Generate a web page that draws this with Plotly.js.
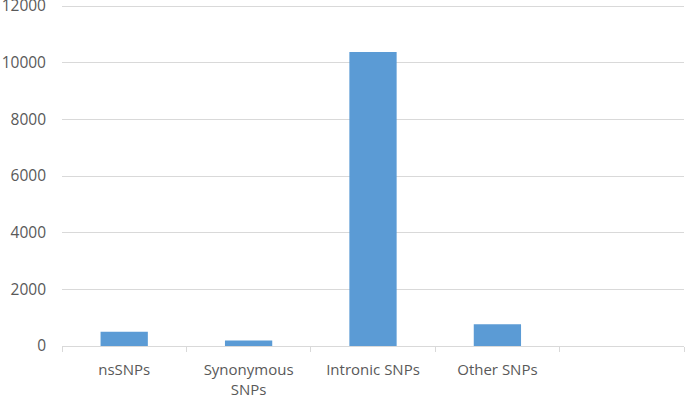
<!DOCTYPE html>
<html>
<head>
<meta charset="utf-8">
<script src="https://cdn.plot.ly/plotly-3.0.1.min.js"></script>
<style>html,body{margin:0;padding:0;background:#fff;}#chart{width:685px;height:398px;}</style>
</head>
<body>
<div id="chart"></div>
<script>
const categories = ['nsSNPs', 'Synonymous<br>SNPs', 'Intronic SNPs', 'Other SNPs', ' '];
const counts = [500, 195, 10380, 770, null];
const yTicks = [0, 2000, 4000, 6000, 8000, 10000, 12000];

const trace = {
  type: 'bar',
  x: categories,
  y: counts,
  marker: {color: '#5b9bd5'},
  hoverinfo: 'x+y'
};

const layout = {
  width: 685,
  height: 398,
  margin: {l: 62, r: 1, t: 0, b: 52},
  paper_bgcolor: '#ffffff',
  plot_bgcolor: '#ffffff',
  bargap: 0.62,
  showlegend: false,
  font: {family: 'Open Sans, sans-serif', size: 15, color: '#595959'},
  xaxis: {
    type: 'category',
    categoryorder: 'array',
    categoryarray: categories,
    showline: true,
    linecolor: '#d9d9d9',
    linewidth: 1,
    ticks: 'outside',
    tickson: 'boundaries',
    ticklen: 5,
    tickcolor: '#d9d9d9',
    showgrid: false,
    ticklabelstandoff: 10,
    tickfont: {size: 15, color: '#595959'}
  },
  yaxis: {
    range: [0, 12212],
    tickvals: yTicks,
    ticktext: yTicks.map(String),
    ticklabeloverflow: 'allow',
    showgrid: true,
    gridcolor: '#d9d9d9',
    gridwidth: 1,
    zeroline: false,
    showline: false,
    ticks: '',
    ticklabelstandoff: 15,
    tickfont: {size: 15.5, color: '#595959'}
  }
};

Plotly.newPlot('chart', [trace], layout, {displayModeBar: false, staticPlot: true});
</script>
</body>
</html>
